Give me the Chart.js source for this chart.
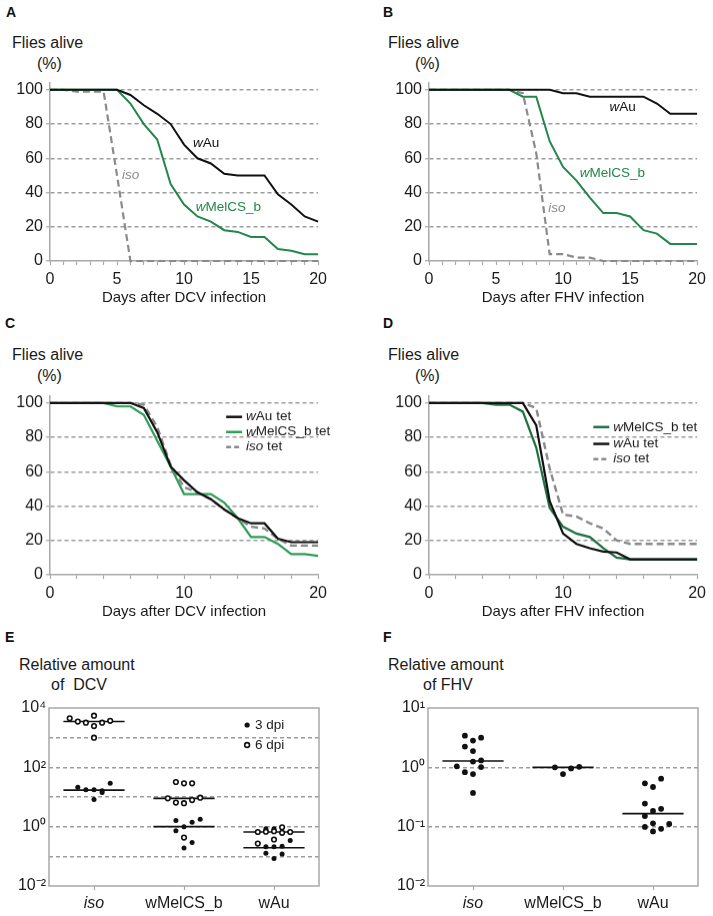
<!DOCTYPE html>
<html lang="en">
<head>
<meta charset="UTF-8">
<title>Survival and viral load</title>
<style>
    body { margin: 0; background: #fff; font-family: "Liberation Sans", Arial, sans-serif; }
    #page { position: relative; width: 713px; height: 916px; overflow: hidden; }
    .lbl { position: absolute; font-size: 16px; line-height: 1; color: #1a1a1a; white-space: nowrap; }
    .panel { position: absolute; font-size: 14px; line-height: 1; font-weight: bold; color: #111; }
    canvas { position: absolute; }
</style>
</head>
<body>
<div id="page">
    <div class="panel" style="left:6px;top:5px">A</div>
    <div class="panel" style="left:383px;top:5px">B</div>
    <div class="panel" style="left:5px;top:316px">C</div>
    <div class="panel" style="left:383px;top:316px">D</div>
    <div class="panel" style="left:5px;top:630px">E</div>
    <div class="panel" style="left:383px;top:630px">F</div>

    <div class="lbl" style="left:12px;top:35px">Flies alive</div>
    <div class="lbl" style="left:37px;top:56px">(%)</div>
    <div class="lbl" style="left:388px;top:35px">Flies alive</div>
    <div class="lbl" style="left:415px;top:56px">(%)</div>
    <div class="lbl" style="left:12px;top:347px">Flies alive</div>
    <div class="lbl" style="left:37px;top:368px">(%)</div>
    <div class="lbl" style="left:388px;top:347px">Flies alive</div>
    <div class="lbl" style="left:415px;top:368px">(%)</div>
    <div class="lbl" style="left:19px;top:657px">Relative amount</div>
    <div class="lbl" style="left:51px;top:677px">of&nbsp; DCV</div>
    <div class="lbl" style="left:388px;top:657px">Relative amount</div>
    <div class="lbl" style="left:423px;top:677px">of FHV</div>

    <canvas id="chartA"></canvas>
    <canvas id="chartB"></canvas>
    <canvas id="chartC"></canvas>
    <canvas id="chartD"></canvas>
    <canvas id="chartE"></canvas>
    <canvas id="chartF"></canvas>
</div>

<script src="https://cdn.jsdelivr.net/npm/chart.js"></script>
<script>
    // ---- survival data (% flies alive per day) ----
    var days = [0, 1, 2, 3, 4, 5, 6, 7, 8, 9, 10, 11, 12, 13, 14, 15, 16, 17, 18, 19, 20];
    var survTicks = [0, 20, 40, 60, 80, 100];

    // A: DCV
    var aAu  = [100, 100, 100, 100, 100, 100, 97, 91, 86, 80, 68, 60, 57, 51, 50, 50, 50, 39, 33, 26, 23];
    var aMel = [100, 100, 100, 100, 100, 100, 92, 80, 71, 45, 33, 26, 23, 18, 17, 14, 14, 7, 6, 4, 4];
    var aIso = [100, 100, 99, 99, 99, 50, 0, 0, 0, 0, 0, 0, 0, 0, 0, 0, 0, 0, 0, 0, 0];
    // B: FHV
    var bAu  = [100, 100, 100, 100, 100, 100, 100, 100, 100, 100, 98, 98, 96, 96, 96, 96, 96, 92, 86, 86, 86];
    var bMel = [100, 100, 100, 100, 100, 100, 100, 96, 96, 70, 55, 47, 37, 28, 28, 26, 18, 16, 10, 10, 10];
    var bIso = [100, 100, 100, 100, 100, 100, 100, 98, 63, 4, 4, 2, 2, 0, 0, 0, 0, 0, 0, 0, 0];
    // C: DCV, tetracycline treated
    var cAu  = [100, 100, 100, 100, 100, 100, 100, 97, 83, 63, 55, 48, 44, 38, 33, 30, 30, 21, 19, 19, 19];
    var cMel = [100, 100, 100, 100, 100, 98, 98, 93, 78, 63, 47, 47, 47, 42, 33, 22, 22, 18, 12, 12, 11];
    var cIso = [100, 100, 100, 100, 100, 100, 100, 99, 86, 64, 51, 48, 44, 38, 33, 28, 27, 21, 17, 17, 17];
    // D: FHV, tetracycline treated
    var dMel = [100, 100, 100, 100, 100, 99, 99, 95, 74, 39, 28, 24, 22, 15.5, 10, 9, 9, 9, 9, 9, 9];
    var dAu  = [100, 100, 100, 100, 100, 100, 100, 100, 87, 43, 24, 18, 15.5, 13.5, 13, 9, 9, 9, 9, 9, 9];
    var dIso = [100, 100, 100, 100, 100, 100, 100, 100, 97, 62, 35, 34, 30, 27, 20, 18, 18, 18, 18, 18, 18];

    // ---- viral load data (relative amount, jitter = offset from group centre) ----
    var groups = ['iso', 'wMelCS_b', 'wAu'];
    var eDecades = [0.01, 0.1, 1, 10, 100, 1000, 10000];
    var fDecades = [0.01, 0.1, 1, 10];

    // E: DCV, 6 dpi (open) and 3 dpi (filled)
    var e6Iso = [4500, 3500, 3200, 5500, 2450, 3200, 3700, 1000];
    var e6IsoJit = [-0.27, -0.18, -0.09, 0, 0, 0.09, 0.18, 0];
    var e6Mel = [32, 29, 29, 9.0, 6.5, 6.2, 7.9, 9.5, 0.43];
    var e6MelJit = [-0.09, 0, 0.09, -0.18, -0.09, 0, 0.09, 0.18, 0];
    var e6Au = [0.66, 0.68, 0.70, 0.62, 0.66, 0.95, 0.37, 0.27];
    var e6AuJit = [-0.18, -0.09, 0, 0.09, 0.18, 0.09, 0, -0.18];
    var e3Iso = [21.5, 17.4, 17.4, 16.3, 14.1, 28.8, 8.3];
    var e3IsoJit = [-0.18, -0.09, 0, 0.09, 0.09, 0.18, 0];
    var e3Mel = [1.6, 1.4, 1.77, 1.0, 0.73, 0.29, 0.19];
    var e3MelJit = [-0.09, 0.09, 0.18, 0, -0.09, 0.09, 0];
    var e3Au = [0.85, 0.85, 0.34, 0.21, 0.21, 0.22, 0.126, 0.12, 0.085];
    var e3AuJit = [-0.09, 0, 0.18, -0.09, 0, 0.09, -0.09, 0.09, 0];
    var e6Median = [3500, 9, 0.66];
    var e3Median = [17, 1.0, 0.195];

    // F: FHV
    var fIso = [3.42, 3.16, 2.82, 2.24, 1.88, 1.25, 1.31, 1.04, 1.01, 0.83, 0.77, 0.37];
    var fIsoJit = [-0.09, 0.09, 0, -0.09, 0, 0, 0.09, -0.18, 0.09, -0.09, 0, 0];
    var fMel = [1.0, 0.77, 0.96, 1.02];
    var fMelJit = [-0.09, 0, 0.09, 0.18];
    var fAu = [0.537, 0.645, 0.466, 0.245, 0.184, 0.2, 0.151, 0.114, 0.111, 0.099, 0.092, 0.083];
    var fAuJit = [-0.09, 0.09, 0, -0.09, 0, 0.09, -0.09, 0, 0.18, -0.09, 0.09, 0];
    var fMedian = [1.28, 1.0, 0.166];

    // ---- styles ----
    var FONT = '"Liberation Sans", Arial, sans-serif';
    var TXT = '#1a1a1a';
    var AXIS = '#a8a8a8';
    var GRID = '#9c9c9c';
    var BLACK = '#111111';
    var GRAYLINE = '#8a8a8a';
    var Y_W = 40, X_H = 46;

    // positions a canvas so that its plot area lands on the given box
    function place(id, area) {
        var c = document.getElementById(id);
        var L = area.l - 50, T = area.t - 16;
        var W = area.r - L + 10, H = area.b - T + X_H;
        c.width = W; c.height = H;
        c.style.left = L + 'px'; c.style.top = T + 'px';
        c.style.width = W + 'px'; c.style.height = H + 'px';
        return { left: 50 - Y_W, top: 16, right: 10, bottom: 0 };
    }

    function richText(ctx, parts, x, y, size, color) {
        ctx.fillStyle = color;
        ctx.textBaseline = 'middle';
        ctx.textAlign = 'left';
        parts.forEach(function (p) {
            ctx.font = (p[1] ? 'italic ' : '') + size + 'px ' + FONT;
            ctx.fillText(p[0], x, y);
            x += ctx.measureText(p[0]).width;
        });
    }

    // in-plot labels and legend entries
    var notes = {
        id: 'notes',
        afterDatasetsDraw: function (chart, args, opts) {
            var ctx = chart.ctx, xs = chart.scales.x, ys = chart.scales.y;
            (opts.items || []).forEach(function (n) {
                var px = xs.getPixelForValue(n.x), py = ys.getPixelForValue(n.y);
                ctx.save();
                if (n.mark === 'line' || n.mark === 'dash') {
                    ctx.strokeStyle = n.color;
                    ctx.lineWidth = 2.5;
                    ctx.setLineDash(n.mark === 'dash' ? [5, 3] : []);
                    ctx.beginPath();
                    ctx.moveTo(px - 20, py);
                    ctx.lineTo(px - 4, py);
                    ctx.stroke();
                    ctx.setLineDash([]);
                } else if (n.mark === 'dot' || n.mark === 'ring') {
                    ctx.beginPath();
                    ctx.arc(px - 8, py, n.mark === 'dot' ? 2.6 : 2.4, 0, Math.PI * 2);
                    if (n.mark === 'dot') { ctx.fillStyle = BLACK; ctx.fill(); }
                    else { ctx.fillStyle = '#fff'; ctx.fill(); ctx.lineWidth = 1.6; ctx.strokeStyle = BLACK; ctx.stroke(); }
                }
                richText(ctx, n.parts, px, py, 13.5, n.mark ? TXT : n.color);
                ctx.restore();
            });
        }
    };

    // grey box round the dot plots
    var frame = {
        id: 'frame',
        afterDraw: function (chart, args, opts) {
            if (!opts.on) return;
            var a = chart.chartArea, ctx = chart.ctx;
            ctx.save();
            ctx.strokeStyle = AXIS;
            ctx.lineWidth = 1.5;
            ctx.strokeRect(a.left, a.top, a.right - a.left, a.bottom - a.top);
            ctx.restore();
        }
    };

    function survival(id, area, series, step, every, title, items) {
        var pad = place(id, area);
        return new Chart(document.getElementById(id), {
            type: 'line',
            data: {
                datasets: series.map(function (s) {
                    return {
                        data: days.map(function (d, i) { return { x: d, y: s.values[i] }; }),
                        borderColor: s.color,
                        borderWidth: s.width || 2,
                        borderDash: s.dash || [],
                        pointRadius: 0,
                        tension: 0,
                        fill: false,
                        clip: false
                    };
                })
            },
            options: {
                responsive: false,
                animation: false,
                layout: { padding: pad },
                plugins: { legend: { display: false }, tooltip: { enabled: false }, notes: { items: items } },
                scales: {
                    x: {
                        type: 'linear', min: 0, max: 20,
                        afterFit: function (s) { s.height = X_H; },
                        afterBuildTicks: function (s) {
                            s.ticks = days.filter(function (d) { return d % step === 0; }).map(function (d) { return { value: d }; });
                        },
                        ticks: {
                            autoSkip: false, maxRotation: 0, padding: 5, color: TXT,
                            font: { size: 16, family: FONT },
                            callback: function (v) { return v % every === 0 ? v : ''; }
                        },
                        grid: { drawOnChartArea: false, drawTicks: true, tickLength: 4, tickColor: AXIS, tickWidth: 1.2 },
                        border: { display: true, color: AXIS, width: 1.5 },
                        title: { display: true, text: title, color: TXT, font: { size: 15, family: FONT }, padding: { top: 0, bottom: 0 } }
                    },
                    y: {
                        min: 0, max: 104,
                        afterFit: function (s) { s.width = Y_W; },
                        afterBuildTicks: function (s) { s.ticks = survTicks.map(function (v) { return { value: v }; }); },
                        ticks: { padding: 3, color: TXT, font: { size: 16, family: FONT } },
                        grid: {
                            color: function (c) { return c.tick && c.tick.value === 0 ? 'rgba(0,0,0,0)' : GRID; },
                            lineWidth: 1.5, drawTicks: true, tickLength: 4, tickColor: AXIS, tickWidth: 1.2, tickBorderDash: []
                        },
                        border: { display: true, color: AXIS, width: 1.5, dash: [4, 3] }
                    }
                }
            },
            plugins: [notes]
        });
    }

    var SUP = { '-': '\u207B', '0': '\u2070', '1': '\u00B9', '2': '\u00B2', '3': '\u00B3', '4': '\u2074' };
    function pow10(v) {
        var e = String(Math.round(Math.log10(v)));
        return '10' + e.split('').map(function (ch) { return SUP[ch]; }).join('');
    }

    function points(values, jitter, g) {
        return values.map(function (v, i) { return { x: g + jitter[i], y: v }; });
    }

    function medianSets(medians) {
        return medians.map(function (m, g) {
            return {
                data: [{ x: g - 0.34, y: m }, { x: g + 0.34, y: m }],
                showLine: true, borderColor: BLACK, borderWidth: 1.6, pointRadius: 0
            };
        });
    }

    function dots(id, area, sets, decades, labelEvery, items) {
        var pad = place(id, area);
        var lo = decades[0], hi = decades[decades.length - 1];
        return new Chart(document.getElementById(id), {
            type: 'scatter',
            data: { datasets: sets },
            options: {
                responsive: false,
                animation: false,
                layout: { padding: pad },
                plugins: { legend: { display: false }, tooltip: { enabled: false }, notes: { items: items }, frame: { on: true } },
                scales: {
                    x: {
                        type: 'linear', min: -0.5, max: 2.5,
                        afterFit: function (s) { s.height = X_H; },
                        afterBuildTicks: function (s) { s.ticks = groups.map(function (g, i) { return { value: i }; }); },
                        ticks: {
                            autoSkip: false, maxRotation: 0, padding: 4, color: TXT,
                            font: function (c) { return { size: 16, family: FONT, style: c.index === 0 ? 'italic' : 'normal' }; },
                            callback: function (v) { return groups[v]; }
                        },
                        grid: { drawOnChartArea: false, drawTicks: true, tickLength: 4, tickColor: AXIS, tickWidth: 1.2 },
                        border: { display: false }
                    },
                    y: {
                        type: 'logarithmic', min: lo, max: hi,
                        afterFit: function (s) { s.width = Y_W; },
                        afterBuildTicks: function (s) { s.ticks = decades.map(function (v) { return { value: v }; }); },
                        ticks: {
                            padding: 3, color: TXT, font: { size: 16, family: FONT },
                            callback: function (v) {
                                var e = Math.round(Math.log10(v));
                                return e % labelEvery === 0 ? pow10(v) : '';
                            }
                        },
                        grid: {
                            color: function (c) {
                                var v = c.tick && c.tick.value;
                                return v === lo || v === hi ? 'rgba(0,0,0,0)' : GRID;
                            },
                            lineWidth: 1.5, drawTicks: false
                        },
                        border: { display: false, dash: [4, 3] }
                    }
                }
            },
            plugins: [notes, frame]
        });
    }

    var GREEN_AB = '#23864a', GREEN_C = '#2f9c57', GREEN_D = '#1f6f44';
    var W = function (rest) { return [['w', true], [rest, false]]; };

    survival('chartA', { l: 50, t: 82.6, r: 322, b: 261 }, [
        { values: aAu, color: BLACK },
        { values: aMel, color: GREEN_AB },
        { values: aIso, color: GRAYLINE, dash: [7, 4], width: 2.2 }
    ], 1, 5, 'Days after DCV infection', [
        { x: 10.66, y: 68.8, parts: W('Au'), color: BLACK },
        { x: 10.88, y: 31.5, parts: W('MelCS_b'), color: GREEN_AB },
        { x: 5.37, y: 50.1, parts: [['iso', true]], color: '#8a8a8a' }
    ]);

    survival('chartB', { l: 429, t: 82.6, r: 701, b: 261 }, [
        { values: bAu, color: BLACK },
        { values: bMel, color: GREEN_AB },
        { values: bIso, color: GRAYLINE, dash: [7, 4], width: 2.2 }
    ], 1, 5, 'Days after FHV infection', [
        { x: 13.46, y: 89.8, parts: W('Au'), color: BLACK },
        { x: 11.25, y: 51.3, parts: W('MelCS_b'), color: GREEN_AB },
        { x: 8.9, y: 30.9, parts: [['iso', true]], color: '#8a8a8a' }
    ]);

    survival('chartC', { l: 50, t: 396.1, r: 322, b: 575 }, [
        { values: cAu, color: BLACK, width: 2.2 },
        { values: cIso, color: GRAYLINE, dash: [7, 4], width: 2.4 },
        { values: cMel, color: GREEN_C, width: 2.2 }
    ], 2, 10, 'Days after DCV infection', [
        { x: 14.63, y: 91.9, mark: 'line', color: BLACK, parts: W('Au tet') },
        { x: 14.63, y: 83.1, mark: 'line', color: GREEN_C, parts: W('MelCS_b tet') },
        { x: 14.63, y: 74.4, mark: 'dash', color: GRAYLINE, parts: [['iso', true], [' tet', false]] }
    ]);

    survival('chartD', { l: 429, t: 396.1, r: 701, b: 575 }, [
        { values: dAu, color: BLACK, width: 2.2 },
        { values: dMel, color: GREEN_D, width: 2.2 },
        { values: dIso, color: GRAYLINE, dash: [7, 4], width: 2.4 }
    ], 2, 10, 'Days after FHV infection', [
        { x: 13.75, y: 86.0, mark: 'line', color: GREEN_D, parts: W('MelCS_b tet') },
        { x: 13.75, y: 76.2, mark: 'line', color: BLACK, parts: W('Au tet') },
        { x: 13.75, y: 67.4, mark: 'dash', color: GRAYLINE, parts: [['iso', true], [' tet', false]] }
    ]);

    var openStyle = { pointStyle: 'circle', pointRadius: 2.3, backgroundColor: '#fff', borderColor: BLACK, borderWidth: 1.6 };
    var fillStyle = { pointStyle: 'circle', pointRadius: 2.5, backgroundColor: BLACK, borderColor: BLACK, borderWidth: 0 };

    dots('chartE', { l: 49, t: 708, r: 319, b: 886 }, [
        Object.assign({ data: points(e6Iso, e6IsoJit, 0).concat(points(e6Mel, e6MelJit, 1), points(e6Au, e6AuJit, 2)) }, openStyle),
        Object.assign({ data: points(e3Iso, e3IsoJit, 0).concat(points(e3Mel, e3MelJit, 1), points(e3Au, e3AuJit, 2)) }, fillStyle)
    ].concat(medianSets(e6Median), medianSets(e3Median)), eDecades, 2, [
        { x: 1.79, y: 2670, mark: 'dot', parts: [['3 dpi', false]] },
        { x: 1.79, y: 566, mark: 'ring', parts: [['6 dpi', false]] }
    ]);

    dots('chartF', { l: 428, t: 708, r: 698, b: 886 }, [
        Object.assign({ data: points(fIso, fIsoJit, 0).concat(points(fMel, fMelJit, 1), points(fAu, fAuJit, 2)) },
            fillStyle, { pointRadius: 2.9 })
    ].concat(medianSets(fMedian)), fDecades, 1, []);
</script>
</body>
</html>
